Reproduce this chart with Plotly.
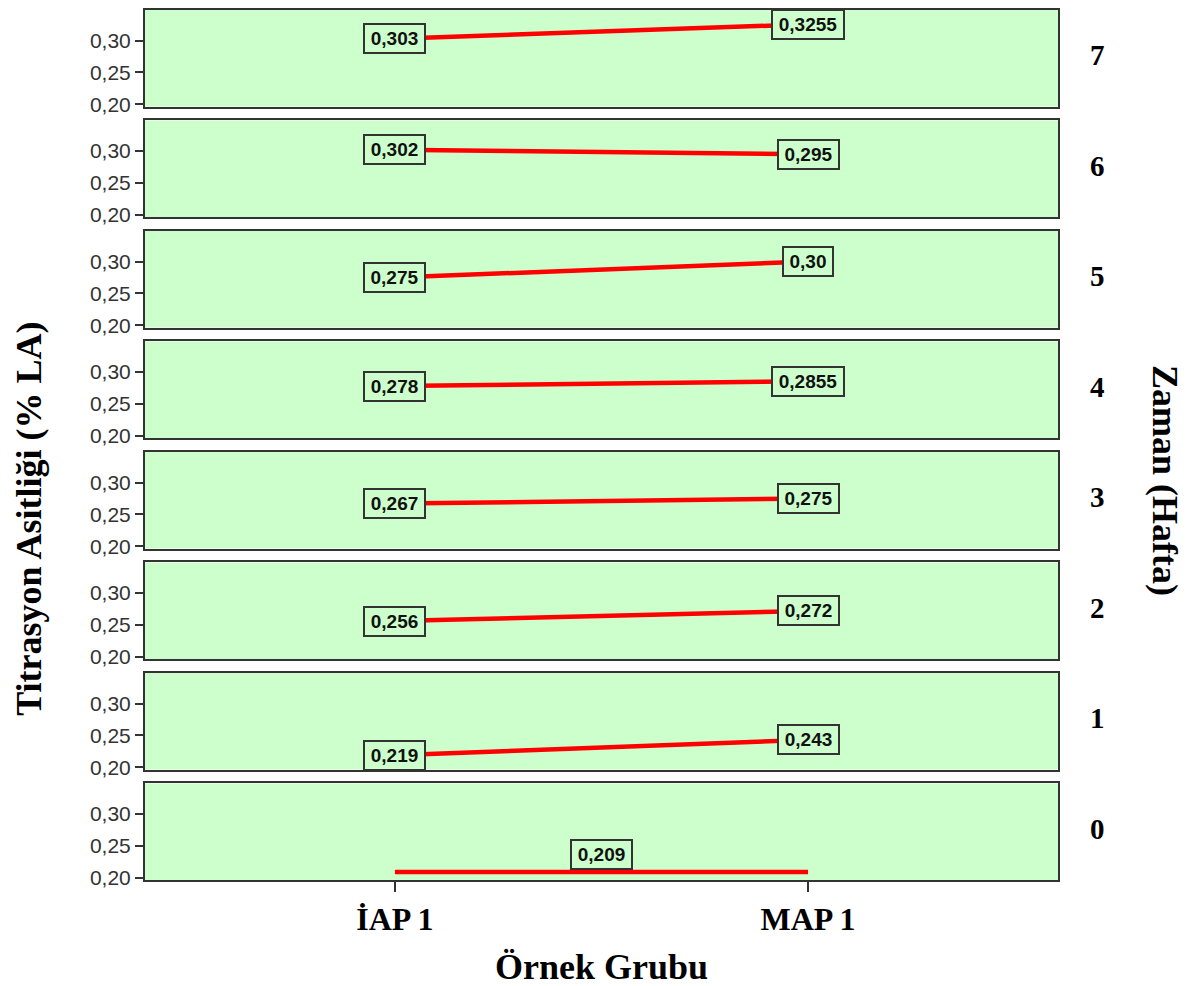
import plotly.graph_objects as go
from plotly.subplots import make_subplots

# ---- data ----
groups = ["İAP 1", "MAP 1"]
weeks = [7, 6, 5, 4, 3, 2, 1, 0]
iap_values = [0.303, 0.302, 0.275, 0.278, 0.267, 0.256, 0.219, 0.209]
map_values = [0.3255, 0.295, 0.30, 0.2855, 0.275, 0.272, 0.243, 0.209]
y_tick_vals = [0.20, 0.25, 0.30]
y_tick_text = ["0,20", "0,25", "0,30"]

y_title = "Titrasyon Asitliği (% LA)"
x_title = "Örnek Grubu"
right_title = "Zaman (Hafta)"


def fmt(v):
    s = f"{v:.4f}".rstrip("0")
    if len(s.split(".")[1]) < 2:
        s = f"{v:.2f}"
    return s.replace(".", ",")


n = len(weeks)
OFF = 8  # page body margin
W, H = 1201 - OFF, 986 - OFF
L, R, T, B = 145 - OFF, 143, 0, 106
plot_w = W - L - R
plot_h = H - T - B
gap = 14

fig = make_subplots(rows=n, cols=1, shared_xaxes=True,
                    vertical_spacing=gap / plot_h)

xs = list(range(len(groups)))
PANEL_BG = "#ccffcc"
LINE_C = "#333333"


def px_x(sx):  # screen x -> paper
    return (sx - OFF - L) / plot_w


def px_y(sy):  # screen y -> paper
    return (H - B - (sy - OFF)) / plot_h


for i, (wk, a, b) in enumerate(zip(weeks, iap_values, map_values)):
    row = i + 1
    fig.add_trace(go.Scatter(x=xs, y=[a, b], mode="lines",
                             line=dict(color="#ff0000", width=4.5),
                             showlegend=False, hoverinfo="skip"),
                  row=row, col=1)
    xref = "x" if row == 1 else f"x{row}"
    yref = "y" if row == 1 else f"y{row}"
    if a == b:
        pts = [((xs[0] + xs[1]) / 2, a, 18)]
        texts = [fmt(a)]
    else:
        pts = [(xs[0], a, 0), (xs[1], b, 0)]
        texts = [fmt(a), fmt(b)]
    for (px, py, ysh), t in zip(pts, texts):
        fig.add_annotation(x=px, y=py, xref=xref, yref=yref, text=f"<b>{t}</b>",
                           showarrow=False, yshift=ysh, xanchor="center", yanchor="middle",
                           font=dict(family="Liberation Sans, Arial", size=19, color="#111"),
                           bgcolor=PANEL_BG, bordercolor="#333", borderwidth=2,
                           borderpad=0, width=11 * len(t) + 4, height=27)
    # right-side week label
    fig.add_annotation(x=px_x(1097), xref="paper", y=0.5, yref=f"{yref} domain",
                       xanchor="center", yanchor="middle",
                       text=f"<b>{wk}</b>", showarrow=False, yshift=3,
                       font=dict(family="Liberation Serif, Times New Roman", size=29, color="#000"))

    fig.update_yaxes(row=row, col=1, range=[0.1965, 0.348],
                     tickvals=y_tick_vals, ticktext=y_tick_text,
                     ticks="outside", ticklen=8, tickwidth=2, tickcolor="#333",
                     tickfont=dict(family="Liberation Sans, Arial", size=21, color="#333"),
                     showline=True, linecolor=LINE_C, linewidth=2, mirror=True,
                     showgrid=False, zeroline=False)
    fig.update_xaxes(row=row, col=1, range=[-0.605, 1.605],
                     showline=True, linecolor=LINE_C, linewidth=2, mirror=True,
                     showgrid=False, zeroline=False,
                     tickvals=xs, ticktext=[f"<b>{g}</b>" for g in groups],
                     ticks="outside" if row == n else "", ticklen=10, tickwidth=2,
                     tickcolor="#333", showticklabels=(row == n),
                     tickfont=dict(family="Liberation Serif, Times New Roman", size=32, color="#000"))

# titles
fig.add_annotation(x=px_x(601), xref="paper", y=px_y(967), yref="paper",
                   xanchor="center", yanchor="middle",
                   text=f"<b>{x_title}</b>", showarrow=False,
                   font=dict(family="Liberation Serif, Times New Roman", size=36, color="#000"))
fig.add_annotation(x=px_x(29), xref="paper", y=px_y(518), yref="paper",
                   xanchor="center", yanchor="middle",
                   text=f"<b>{y_title}</b>", showarrow=False, textangle=-90,
                   font=dict(family="Liberation Serif, Times New Roman", size=36, color="#000"))
fig.add_annotation(x=px_x(1165), xref="paper", y=px_y(479), yref="paper",
                   xanchor="center", yanchor="middle",
                   text=f"<b>{right_title}</b>", showarrow=False, textangle=90,
                   font=dict(family="Liberation Serif, Times New Roman", size=36, color="#000"))

fig.update_layout(width=W, height=H, margin=dict(l=L, r=R, t=T, b=B, pad=0),
                  paper_bgcolor="white", plot_bgcolor=PANEL_BG,
                  showlegend=False)

fig.write_html("out.html")
